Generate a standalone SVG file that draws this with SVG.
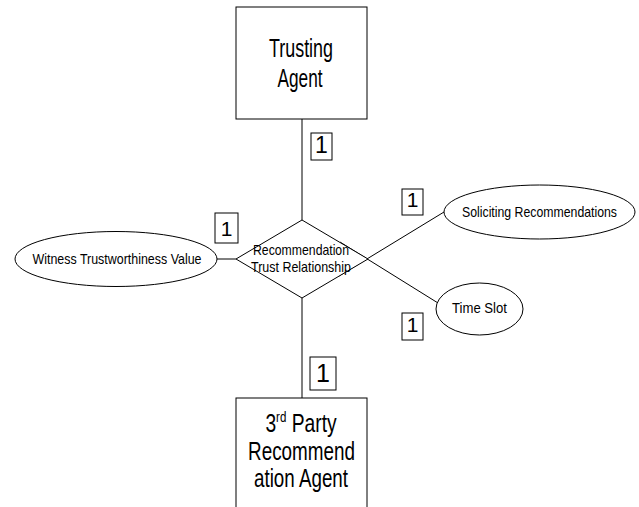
<svg xmlns="http://www.w3.org/2000/svg" width="639" height="507" viewBox="0 0 639 507">
<style>
.s{fill:#fff;stroke:#000;stroke-width:1}
.l{stroke:#000;stroke-width:1;fill:none}
text{font-family:"Liberation Sans",Arial,sans-serif;fill:#000;text-anchor:middle}
.big{font-size:25px}
.sm{font-size:15px}
</style>
<rect width="639" height="507" fill="#fff"/>
<g id="connectors">
<line class="l" x1="302" y1="119" x2="302" y2="220"/>
<line class="l" x1="302" y1="298" x2="302" y2="398"/>
<line class="l" x1="217" y1="259" x2="236" y2="259"/>
<line class="l" x1="339" y1="276" x2="444" y2="212"/>
<line class="l" x1="340" y1="242" x2="438" y2="303"/>
</g>
<g id="trusting-agent">
<rect class="s" x="236" y="7" width="131" height="112"/>
<text class="big" x="301" y="57" textLength="64" lengthAdjust="spacingAndGlyphs">Trusting</text>
<text class="big" x="300" y="87" textLength="45" lengthAdjust="spacingAndGlyphs">Agent</text>
</g>
<g id="relationship">
<polygon class="s" points="302,220 368,259 302,298 236,259"/>
<text class="sm" x="301" y="255" textLength="96" lengthAdjust="spacingAndGlyphs">Recommendation</text>
<text class="sm" x="301" y="272" textLength="100" lengthAdjust="spacingAndGlyphs">Trust Relationship</text>
</g>
<g id="witness">
<ellipse class="s" cx="116" cy="259" rx="101" ry="27.5"/>
<text class="sm" x="117" y="264" textLength="169" lengthAdjust="spacingAndGlyphs">Witness Trustworthiness Value</text>
</g>
<g id="soliciting">
<ellipse class="s" cx="539.5" cy="212" rx="95.5" ry="27"/>
<text class="sm" x="539.5" y="217" textLength="155" lengthAdjust="spacingAndGlyphs">Soliciting Recommendations</text>
</g>
<g id="time-slot">
<ellipse class="s" cx="479.5" cy="309" rx="43.5" ry="26"/>
<text class="sm" x="479.5" y="313" textLength="55" lengthAdjust="spacingAndGlyphs">Time Slot</text>
</g>
<g id="third-party-agent">
<rect class="s" x="236" y="398" width="131" height="115"/>
<text class="big" transform="translate(301 432) scale(0.77 1)">3<tspan font-size="15" dy="-10">rd</tspan><tspan dy="10"> Party</tspan></text>
<text class="big" x="301.5" y="460" textLength="107" lengthAdjust="spacingAndGlyphs">Recommend</text>
<text class="big" x="301" y="487" textLength="94" lengthAdjust="spacingAndGlyphs">ation Agent</text>
</g>
<g id="card-top">
<rect class="s" x="311" y="133" width="21" height="27"/>
<text font-size="23" x="321.5" y="153">1</text>
</g>
<g id="card-witness">
<rect class="s" x="215" y="213" width="23" height="30"/>
<text font-size="21" x="226.5" y="236">1</text>
</g>
<g id="card-soliciting">
<rect class="s" x="402" y="189" width="21" height="26"/>
<text font-size="21" x="412.5" y="207">1</text>
</g>
<g id="card-timeslot">
<rect class="s" x="402" y="313" width="21" height="27"/>
<text font-size="21" x="412.5" y="332">1</text>
</g>
<g id="card-bottom">
<rect class="s" x="310" y="357" width="26" height="33"/>
<text font-size="25" x="323" y="382">1</text>
</g>
</svg>
